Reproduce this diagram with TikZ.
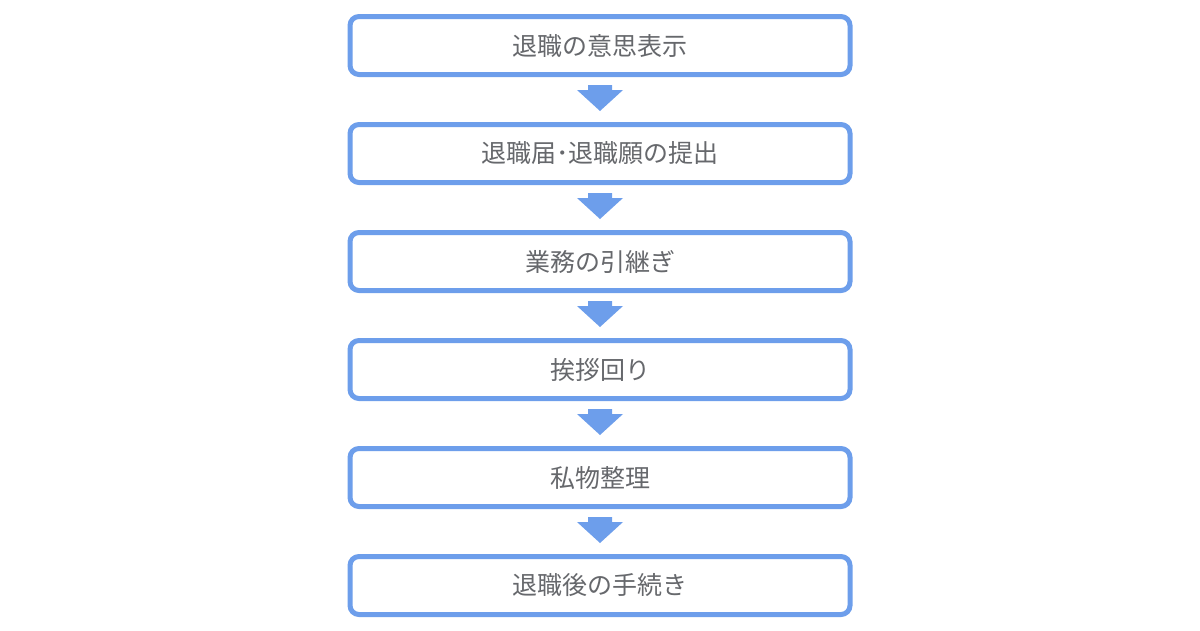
\documentclass[tikz,border=0pt]{standalone}
\usepackage{fontspec}
\usetikzlibrary{calc}
\newfontfamily\cjk{Noto Sans CJK JP}
\definecolor{boxblue}{HTML}{6D9EEB}
\definecolor{txtgray}{HTML}{66686C}
\begin{document}
\begin{tikzpicture}[x=1pt,y=-1pt,
  stepbox/.style={draw=boxblue,line width=5pt,rounded corners=9pt,fill=white,
    minimum width=500pt,minimum height=58pt,inner sep=0pt,
    font=\cjk\fontsize{25}{30}\selectfont,text=txtgray},
  blockarrow/.style={fill=boxblue,draw=none}]
\useasboundingbox (0,0) rectangle (1200,630);
\node[stepbox] (b1) at (600,45.5) {退職の意思表示};
\node[stepbox] (b2) at (600,153.5) {退職届･退職願の提出};
\node[stepbox] (b3) at (600,261.5) {業務の引継ぎ};
\node[stepbox] (b4) at (600,369.5) {挨拶回り};
\node[stepbox] (b5) at (600,477.5) {私物整理};
\node[stepbox] (b6) at (600,585.5) {退職後の手続き};
\foreach \a/\b in {b1/b2,b2/b3,b3/b4,b4/b5,b5/b6}{
  \coordinate (m) at ($(\a.south)!0.5!(\b.north)$);
  \fill[blockarrow] ([shift={(-12,-14.5)}]m) -- ([shift={(12,-14.5)}]m) -- ([shift={(12,-9.5)}]m)
    -- ([shift={(23,-9.5)}]m) -- ([shift={(0,11.5)}]m) -- ([shift={(-23,-9.5)}]m)
    -- ([shift={(-12,-9.5)}]m) -- cycle;
}
\end{tikzpicture}
\end{document}
